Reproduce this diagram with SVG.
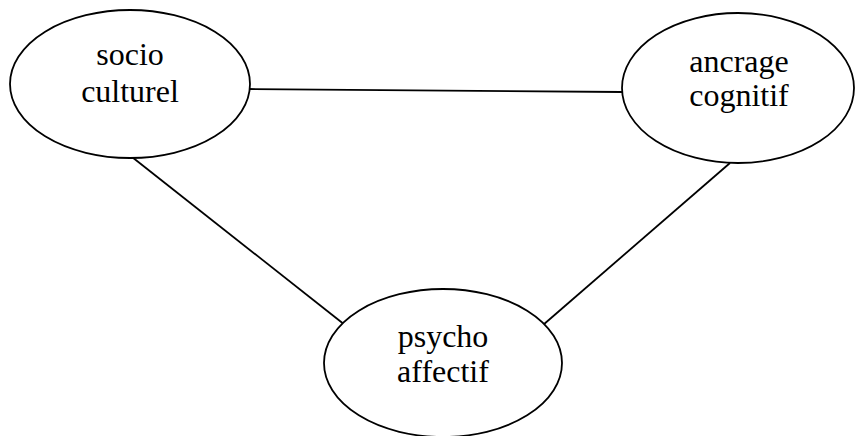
<svg xmlns="http://www.w3.org/2000/svg" width="856" height="436" viewBox="0 0 856 436">
<style>
.node ellipse{fill:#fff;stroke:#000;stroke-width:1.8}
.node text{font-family:"Liberation Serif","Times New Roman",serif;font-size:32px;fill:#000;text-anchor:middle}
#connectors line{stroke:#000;stroke-width:1.8}
</style>
<rect width="856" height="436" fill="#fff"/>
<g id="connectors">
<line x1="249" y1="89" x2="622" y2="92"/>
<line x1="132" y1="157" x2="345" y2="325"/>
<line x1="730" y1="163" x2="543" y2="325"/>
</g>
<g id="socio-culturel" class="node">
<ellipse cx="130" cy="84" rx="120" ry="74"/>
<text x="130" y="65">socio</text>
<text x="130" y="102">culturel</text>
</g>
<g id="ancrage-cognitif" class="node">
<ellipse cx="738" cy="88" rx="116" ry="75"/>
<text x="739" y="72">ancrage</text>
<text x="739" y="106">cognitif</text>
</g>
<g id="psycho-affectif" class="node">
<ellipse cx="443" cy="363" rx="119" ry="74"/>
<text x="443" y="347">psycho</text>
<text x="443" y="382">affectif</text>
</g>
</svg>
